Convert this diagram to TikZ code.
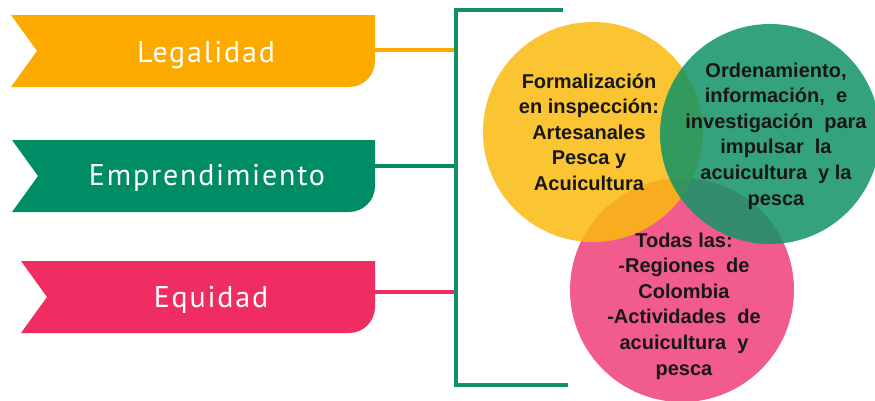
\documentclass[tikz,border=0pt]{standalone}
\usepackage{fontspec}
\setmainfont{Liberation Sans}
\newfontfamily\ribbonfont[LetterSpace=6]{PT Sans}
\definecolor{legcol}{RGB}{252,170,0}
\definecolor{empcol}{RGB}{0,140,100}
\definecolor{equcol}{RGB}{239,45,98}
\definecolor{brcol}{RGB}{19,144,106}
\definecolor{ycirc}{RGB}{250,186,14}
\definecolor{gcirc}{RGB}{16,147,102}
\definecolor{pcirc}{RGB}{238,63,120}
\definecolor{ctext}{RGB}{25,22,22}
\tikzset{
  ribbontext/.style={text=white, font=\ribbonfont\fontsize{30}{32}\selectfont, inner sep=0pt, anchor=base},
  bubble/.style={circle, minimum size=#1, inner sep=0pt, draw=none, fill opacity=0.85},
  bubbletext/.style={align=center, text=ctext, inner sep=0pt, font=\fontsize{20}{25.6}\selectfont\bfseries},
  conn/.style={line width=4pt},
  bracketline/.style={line width=4.5pt, draw=brcol, line join=miter}
}
\begin{document}
\begin{tikzpicture}[x=1pt,y=-1pt]
\useasboundingbox (0,0) rectangle (875,400);
% ribbons
\fill[legcol] (11,15) -- (375,15) -- (375,61) .. controls (375,75.4) and (363.4,87) .. (349,87) -- (11,87) -- (37,51) -- cycle;
\fill[empcol] (12,140) -- (375,140) -- (375,186) .. controls (375,200.4) and (363.4,212) .. (349,212) -- (12,212) -- (38,176) -- cycle;
\fill[equcol] (21,261) -- (375,261) -- (375,307) .. controls (375,321.4) and (363.4,333) .. (349,333) -- (21,333) -- (47,297) -- cycle;
\node[ribbontext] (leg) at (206,62) {Legalidad};
\node[ribbontext] (emp) at (207,185) {Emprendimiento};
\node[ribbontext] (equ) at (211,307) {Equidad};
% bracket
\coordinate (brTR) at (563,10);
\coordinate (brTop) at (456,10);
\coordinate (brBot) at (456,385);
\coordinate (brBR) at (568,385);
\coordinate (legR) at (374,50);
\coordinate (legB) at (456,50);
\coordinate (empR) at (374,166);
\coordinate (empB) at (456,166);
\coordinate (equR) at (374,292);
\coordinate (equB) at (456,292);
\draw[conn, legcol] (legR) -- (legB);
\draw[conn, empcol] (empR) -- (empB);
\draw[conn, equcol] (equR) -- (equB);
\draw[bracketline] (brTR) -- (brTop) -- (brBot) -- (brBR);
% circles
\node[bubble=224pt, fill=pcirc] (pc) at (682,290) {};
\node[bubble=220pt, fill=ycirc] (yc) at (593,132) {};
\node[bubble=220pt, fill=gcirc] (gc) at (770,134) {};
\node[bubbletext] (yt) at (589,132) {Formalización\\en inspección:\\Artesanales\\Pesca y\\Acuicultura};
\node[bubbletext] (gt) at (776,136) {Ordenamiento,\\información,\ \ e\\investigación\ \ para\\impulsar\ \ la\\acuicultura\ \ y la\\pesca};
\node[bubbletext] (pt) at (684,306) {Todas las:\\-Regiones\ \ de\\Colombia\\-Actividades\ \ de\\acuicultura\ \ y\\pesca};
\end{tikzpicture}
\end{document}
